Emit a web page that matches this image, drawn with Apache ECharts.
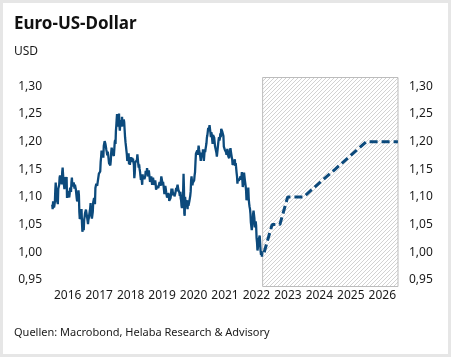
<!DOCTYPE html>
<html><head><meta charset="utf-8">
<script src="https://cdn.jsdelivr.net/npm/echarts@6/dist/echarts.min.js"></script>
<style>
html,body{margin:0;padding:0;background:#fff;}
#chart{position:absolute;left:0;top:0;width:451px;height:357px;}
#frame{position:absolute;left:0;top:0;width:451px;height:357px;box-sizing:border-box;border:3px solid #e6e6e6;pointer-events:none;}
</style></head>
<body>
<div id="chart"></div><div id="frame"></div>
<script>
// Year tick labels
const yearLabels = ['2016','2017','2018','2019','2020','2021','2022','2023','2024','2025','2026'];
// Y tick values
const yTicks = [0.95,1.00,1.05,1.10,1.15,1.20,1.25,1.30];

// Historical EUR/USD, several readings per month
const hist2016 = [
 [1.086,1.078,1.092,1.089,1.081,1.085],[1.091,1.112,1.126,1.113,1.101,1.094],[1.097,1.087,1.115,1.117,1.122,1.135],
 [1.139,1.140,1.129,1.127,1.123,1.145],[1.153,1.140,1.131,1.122,1.114,1.114],[1.136,1.125,1.128,1.136,1.098,1.111],
 [1.106,1.109,1.104,1.099,1.106,1.117],[1.115,1.109,1.127,1.135,1.119,1.116],[1.120,1.126,1.122,1.115,1.122,1.124],
 [1.114,1.106,1.098,1.092,1.089,1.098],[1.112,1.103,1.073,1.060,1.057,1.059],[1.066,1.078,1.054,1.037,1.044,1.052]];
const hist2017 = [
 [1.040,1.059,1.064,1.071,1.070,1.077],[1.078,1.067,1.062,1.061,1.051,1.058],[1.062,1.068,1.074,1.079,1.089,1.070],
 [1.065,1.061,1.063,1.073,1.090,1.090],[1.098,1.093,1.087,1.116,1.118,1.124],[1.127,1.120,1.121,1.117,1.120,1.142],
 [1.142,1.143,1.146,1.163,1.172,1.184],[1.180,1.173,1.181,1.171,1.192,1.191],[1.201,1.202,1.195,1.195,1.185,1.181],
 [1.175,1.182,1.177,1.178,1.161,1.164],[1.164,1.157,1.165,1.180,1.189,1.190],[1.188,1.178,1.177,1.174,1.186,1.199]];
const hist2018 = [
 [1.203,1.196,1.219,1.228,1.240,1.250,1.241],[1.249,1.227,1.233,1.251,1.229,1.220],[1.232,1.231,1.239,1.227,1.245,1.232],
 [1.228,1.232,1.240,1.235,1.221,1.208],[1.199,1.192,1.184,1.177,1.165,1.167],[1.170,1.179,1.159,1.165,1.158,1.168],
 [1.172,1.168,1.163,1.171,1.165,1.169],[1.166,1.158,1.134,1.143,1.162,1.160],[1.159,1.162,1.167,1.177,1.178,1.160],
 [1.153,1.159,1.151,1.146,1.138,1.131],[1.137,1.134,1.122,1.141,1.132,1.137],[1.137,1.132,1.135,1.138,1.147,1.146]];
const hist2019 = [
 [1.141,1.152,1.146,1.137,1.134,1.148],[1.145,1.134,1.127,1.132,1.134,1.137],[1.134,1.122,1.131,1.135,1.130,1.122],
 [1.122,1.126,1.130,1.124,1.113,1.115],[1.120,1.122,1.117,1.116,1.113,1.116],[1.127,1.128,1.120,1.129,1.137,1.137],
 [1.128,1.121,1.127,1.121,1.113,1.105],[1.110,1.120,1.115,1.108,1.106,1.099],[1.096,1.103,1.107,1.103,1.093,1.090],
 [1.096,1.098,1.104,1.115,1.111,1.115],[1.113,1.103,1.101,1.107,1.101,1.102],[1.107,1.112,1.116,1.110,1.118,1.122]];
const hist2020 = [
 [1.116,1.112,1.110,1.108,1.102,1.109],[1.098,1.094,1.084,1.080,1.085,1.102],[1.113,1.142,1.118,1.070,1.066,1.100,1.103],
 [1.085,1.094,1.087,1.082,1.078,1.094],[1.084,1.081,1.092,1.090,1.102,1.110],[1.130,1.137,1.128,1.121,1.126,1.123],
 [1.128,1.130,1.139,1.145,1.163,1.178],[1.180,1.178,1.184,1.176,1.183,1.193],[1.186,1.183,1.184,1.172,1.165,1.172],
 [1.180,1.182,1.172,1.186,1.175,1.165],[1.165,1.186,1.181,1.187,1.192,1.197],[1.207,1.211,1.213,1.225,1.219,1.222]];
const hist2021 = [
 [1.230,1.228,1.216,1.208,1.217,1.213],[1.204,1.196,1.212,1.210,1.214,1.207],[1.209,1.191,1.194,1.190,1.180,1.173],
 [1.176,1.188,1.196,1.203,1.208,1.202],[1.206,1.215,1.208,1.223,1.220,1.219],[1.222,1.217,1.210,1.191,1.194,1.186],
 [1.187,1.185,1.181,1.176,1.180,1.187],[1.186,1.174,1.172,1.170,1.180,1.180],[1.188,1.182,1.177,1.172,1.168,1.158],
 [1.156,1.155,1.160,1.164,1.168,1.156],[1.161,1.159,1.144,1.137,1.124,1.133],[1.130,1.129,1.127,1.133,1.132,1.137]];
const hist2022 = [
 [1.131,1.136,1.145,1.132,1.118,1.115],[1.128,1.144,1.141,1.131,1.132,1.120],[1.112,1.094,1.099,1.105,1.098,1.117],
 [1.097,1.088,1.082,1.078,1.070,1.054],[1.052,1.040,1.038,1.056,1.069,1.075],[1.072,1.061,1.045,1.052,1.056,1.048],
 [1.026,1.018,1.003,1.008,1.020,1.022],[1.018,1.030,1.017,1.003,0.995,1.002],[0.992,1.000]];
const histLastDay = 12; // data of the final month runs to this day

// Forecast (dashed)
const fcDates  = ['2022-09-30','2022-12-31','2023-03-31','2023-06-30','2023-12-31','2024-06-30','2024-12-31','2025-06-30','2025-12-31','2026-12-31'];
const fcValues = [1.00, 1.05, 1.05, 1.10, 1.10, 1.125, 1.15, 1.175, 1.20, 1.20];
const forecastStart = '2022-09-12';
const axisEnd = '2027-01-01';

const histYears = [[2016,hist2016],[2017,hist2017],[2018,hist2018],[2019,hist2019],[2020,hist2020],[2021,hist2021],[2022,hist2022]];
const histData = [];
histYears.forEach(([yr, months]) => {
  months.forEach((vals, m) => {
    const start = Date.UTC(yr, m, 1);
    const isLast = (yr === 2022 && m === months.length - 1);
    const end = isLast ? Date.UTC(yr, m, histLastDay) : Date.UTC(yr, m + 1, 1);
    vals.forEach((v, i) => {
      histData.push([start + (end - start) * (i + 0.5) / vals.length, v]);
    });
  });
});
const fcData = fcDates.map((d, i) => [new Date(d + 'T00:00:00Z').getTime(), fcValues[i]]);

// hatch pattern
const pc = document.createElement('canvas');
pc.width = 4; pc.height = 4;
const px = pc.getContext('2d');
px.fillStyle = '#ffffff'; px.fillRect(0,0,4,4);
px.strokeStyle = '#d2d2d2'; px.lineWidth = 1;
px.beginPath();
px.moveTo(-1,5); px.lineTo(5,-1);
px.moveTo(-1,1); px.lineTo(1,-1);
px.moveTo(3,5); px.lineTo(5,3);
px.stroke();

const FONT = 'Noto Sans';
const TXT = '#1a1a1a';
const fmt = v => v.toFixed(2).replace('.', ',');

const chart = echarts.init(document.getElementById('chart'), null, {renderer:'canvas'});
chart.setOption({
  animation: false,
  backgroundColor: 'transparent',
  grid: {left: 52, right: 53, top: 77.5, bottom: 70.5, containLabel: false},
  xAxis: [
    {type:'time', min: Date.UTC(2016,0,1), max: new Date(axisEnd+'T00:00:00Z').getTime(),
     axisLine:{show:false}, axisTick:{show:false}, axisLabel:{show:false}, splitLine:{show:false}},
    {type:'category', data: yearLabels, boundaryGap: true, position:'bottom',
     axisLine:{show:false}, axisTick:{show:false}, splitLine:{show:false},
     axisLabel:{interval:0, margin:3, fontFamily:FONT, fontSize:12, color:TXT}}
  ],
  yAxis: [
    {type:'value', position:'left', min:0.938, max:1.316,
     axisLine:{show:false}, axisTick:{show:false}, splitLine:{show:false},
     axisLabel:{customValues: yTicks, margin:10, fontFamily:FONT, fontSize:12, color:TXT, formatter: fmt}},
    {type:'value', position:'right', min:0.938, max:1.316,
     axisLine:{show:false}, axisTick:{show:false}, splitLine:{show:false},
     axisLabel:{customValues: yTicks, margin:11, fontFamily:FONT, fontSize:12, color:TXT, formatter: fmt}}
  ],
  series: [
    {type:'line', xAxisIndex:0, yAxisIndex:0, data:[], z:1, silent:true,
     markArea:{silent:true,
       itemStyle:{color:{image: pc, repeat:'repeat'}, borderColor:'#bcbcbc', borderWidth:1},
       data:[[{xAxis: new Date(forecastStart+'T00:00:00Z').getTime()},{xAxis: new Date(axisEnd+'T00:00:00Z').getTime()}]]}},
    {type:'line', xAxisIndex:0, yAxisIndex:0, data: histData, showSymbol:false, z:3,
     lineStyle:{color:'#0c4a7c', width:2.3}},
    {type:'line', xAxisIndex:0, yAxisIndex:0, data: fcData, showSymbol:false, z:3,
     lineStyle:{color:'#0c4a7c', width:3, type:[8,4]}}
  ],
  graphic: [
    {type:'text', left:14, top:16, style:{text:'Euro-US-Dollar', font:'bold 17px "Noto Sans"', fill:'#111'}},
    {type:'text', left:14, top:46, style:{text:'USD', font:'12px "Noto Sans"', fill:TXT}},
    {type:'text', left:14, top:327, style:{text:'Quellen: Macrobond, Helaba Research & Advisory', font:'11px "Noto Sans"', fill:TXT}}
  ]
});
</script>
</body></html>
